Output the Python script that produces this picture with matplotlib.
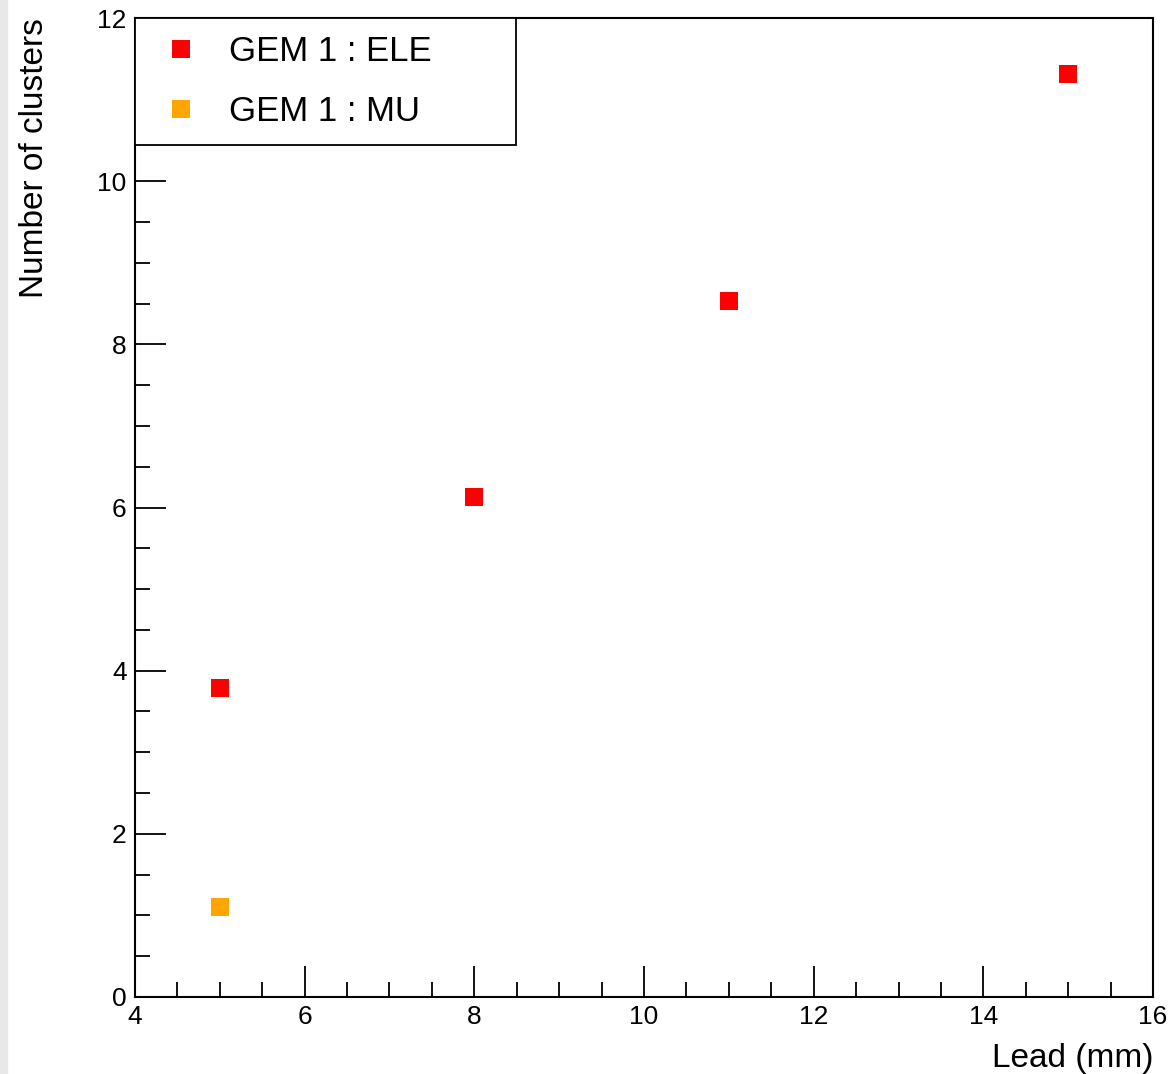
import matplotlib.pyplot as plt
from matplotlib.patches import Rectangle
from matplotlib.ticker import MultipleLocator

plt.rcParams['font.family'] = ['Liberation Sans', 'DejaVu Sans']

# data
lead_ele = [5, 8, 11, 15]
clusters_ele = [3.79, 6.13, 8.53, 11.31]
lead_mu = [5]
clusters_mu = [1.10]

fig = plt.figure(figsize=(11.7, 10.74), dpi=100)
ax = fig.add_axes([135 / 1170, 1 - 997 / 1074, 1018 / 1170, 979 / 1074])

# light grey strip at left border like the original screenshot
fig.patches.append(Rectangle((0, 0), 7 / 1170, 1, transform=fig.transFigure,
                             color='#e8e8e8', zorder=0))

ax.plot(lead_ele, clusters_ele, 's', color='#ff0000', markersize=12.5,
        markeredgewidth=0, label='GEM 1 : ELE')
ax.plot(lead_mu, clusters_mu, 's', color='#ffa500', markersize=12.5,
        markeredgewidth=0, label='GEM 1 : MU')

ax.set_xlim(4, 16)
ax.set_ylim(0, 12)
ax.xaxis.set_major_locator(MultipleLocator(2))
ax.xaxis.set_minor_locator(MultipleLocator(0.5))
ax.yaxis.set_major_locator(MultipleLocator(2))
ax.yaxis.set_minor_locator(MultipleLocator(0.5))
ax.tick_params(which='both', direction='in', top=False, right=False,
               labelsize=19, width=1.3, pad=6)
ax.tick_params(which='major', length=22)
ax.tick_params(which='minor', length=11)
for s in ax.spines.values():
    s.set_linewidth(1.5)

ax.set_xlabel('Lead (mm)', fontsize=24, loc='right', labelpad=10)
ax.set_ylabel('Number of clusters', fontsize=24, loc='top', labelpad=34)

leg = ax.legend(loc='upper left', bbox_to_anchor=(0, 0.875, 0.374, 0.125),
                mode='expand', borderaxespad=0, fontsize=25, fancybox=False,
                edgecolor='black', framealpha=1, handlelength=1.7,
                handletextpad=0.52, labelspacing=0.8, borderpad=0.48)
leg.get_frame().set_linewidth(1.3)

fig.savefig('out.png', dpi=100)
